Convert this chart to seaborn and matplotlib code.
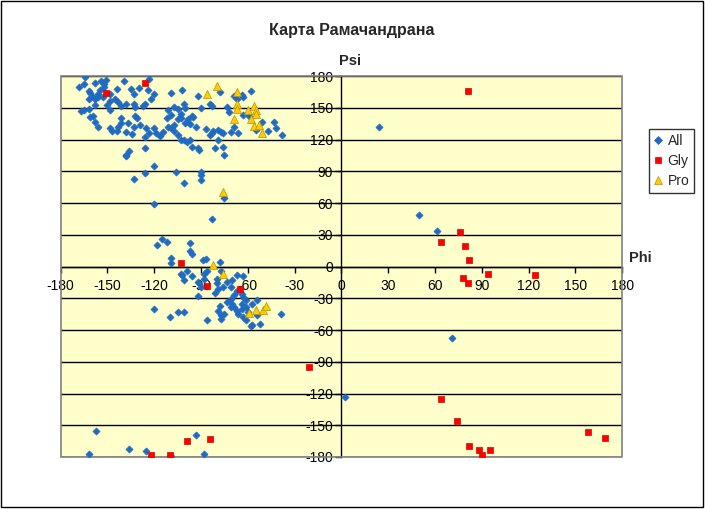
import matplotlib
matplotlib.use("Agg")
import matplotlib.pyplot as plt
from matplotlib.patches import Rectangle
from matplotlib.lines import Line2D
import seaborn as sns
import pandas as pd

# ---------------- data ----------------
all_phi = [-164, -168, -165, -162, -158, -154, -152, -151, -152, -155, -156, -161, -160, -162, -158, -156,
           -148, -144, -139, -135, -133, -130, -123, -124, -120, -122, -126, -127, -132, -133, -138, -141,
           -143, -145, -148, -150, -153, -158, -165, -162, -167, -159, -158, -161, -156, -148, -148, -147,
           -144, -143, -141, -141, -137, -138, -134, -133, -132, -131, -129, -125, -123, -126, -120, -119,
           -116, -114, -111, -109, -107, -105, -109, -112, -111, -107, -105, -109, -102, -101, -100, -103,
           -103, -100, -98, -97, -96, -95, -107, -105, -103, -101, -99, -97, -96, -92, -91, -93, -90, -92,
           -84, -83, -78, -73, -72, -69, -67, -64, -63, -58, -63, -69, -66, -71, -76, -77, -79, -82, -83,
           -87, -84, -79, -76, -75, -81, -55, -51, -47, -42, -43, -38, -59,
           -138, -136, -138, -126, -120, -133, -126, -106, -101, -90, -90, -90, -120, -75, -83,
           -115, -118, -112, -109, -109, -97, -97, -96, -102, -103, -101, -99, -96, -89, -87, -86, -88,
           -92, -90, -92, -88, -80, -80, -79, -81, -78, -77, -73, -76, -71, -70, -67, -63, -67, -69, -71,
           -73, -70, -69, -67, -66, -71, -64, -63, -61, -64, -61, -60, -64, -63, -61, -58, -57, -54, -52,
           -54, -57, -78, -79, -77, -77, -75, -120, -110, -105, -101, -86, -39,
           -157, -162, -136, -125, -109, -88, -93,
           24, 50, 61, 71, 2]
all_psi = [179, 170, 172, 166, 173, 175, 172, 176, 170, 167, 163, 164, 161, 158, 158, 160,
           163, 168, 175, 168, 163, 169, 177, 167, 163, 158, 154, 152, 151, 154, 154, 152,
           155, 158, 156, 153, 160, 153, 148, 149, 147, 142, 137, 141, 132, 148, 131, 128,
           128, 132, 140, 136, 136, 127, 125, 132, 142, 140, 134, 131, 126, 122, 131, 126,
           123, 127, 132, 131, 134, 139, 143, 140, 148, 151, 149, 164, 167, 154, 150, 144,
           140, 136, 139, 135, 142, 141, 128, 124, 120, 120, 118, 120, 113, 112, 110, 132, 150, 161,
           154, 152, 165, 151, 146, 161, 158, 162, 160, 166, 143, 132, 126, 127, 126, 127, 129, 128, 126,
           130, 124, 120, 113, 105, 112, 129, 137, 128, 131, 137, 124, 142,
           105, 109, 104, 112, 95, 83, 88, 89, 79, 89, 86, 82, 59, 65, 45,
           26, 20, 23, 8, 3, 22, 15, 12, -8, -7, -13, -4, -9, 6, 7, -4, -7,
           -15, -19, -28, -12, -12, -16, -21, -25, 4, -4, -15, -19, -19, -13, -8, -9, -23, -27, -31,
           -34, -35, -38, -42, -45, -38, -26, -29, -32, -35, -38, -43, -40, -48, -51, -56, -55, -46, -54,
           -32, -35, -37, -42, -46, -50, -45, -40, -48, -43, -43, -51, -45,
           -155, -177, -172, -174, -179, -177, -159,
           132, 49, 34, -68, -123]

gly_phi = [-126, -151, 81, -103, -86, -65, 76, 64, 79, 82, 94, 124, 78, 81, -21, 64, 74, 82, 88, 90,
           95, 158, 169, -122, -110, -99, -84]
gly_psi = [173, 164, 166, 3, -18, -21, 33, 23, 19, 6, -7, -8, -11, -16, -95, -125, -146, -170, -173, -178,
           -173, -156, -162, -178, -178, -165, -163]

pro_phi = [-80, -86, -67, -67, -67, -60, -56, -55, -55, -58, -56, -53, -69, -51, -76, -82, -76, -59, -55,
           -50, -48]
pro_psi = [171, 163, 165, 154, 149, 148, 152, 148, 144, 139, 133, 134, 139, 126, 70, 1, -7, -44, -41, -41,
           -37]

series_names = ["All", "Gly", "Pro"]
ticks = list(range(-180, 181, 30))

df = pd.concat([
    pd.DataFrame({"phi": all_phi, "psi": all_psi, "series": "All"}),
    pd.DataFrame({"phi": gly_phi, "psi": gly_psi, "series": "Gly"}),
    pd.DataFrame({"phi": pro_phi, "psi": pro_psi, "series": "Pro"}),
], ignore_index=True)

# ---------------- style ----------------
sns.set_style("white")
plt.rcParams["font.family"] = ["Liberation Sans", "DejaVu Sans"]
plt.rcParams["axes.unicode_minus"] = False

fig = plt.figure(figsize=(7.05, 5.09), dpi=100)
fig.patch.set_facecolor("white")
ax = fig.add_axes([60.5 / 705, 1 - 457 / 509, (622.3 - 60.5) / 705, (457 - 76) / 509])
ax.set_facecolor("#FFFFCC")

colors = {"All": "#1F6BC4", "Gly": "#FF0000", "Pro": "#FFCC00"}
edges = {"All": "#1F6BC4", "Gly": "#E00000", "Pro": "#B8920A"}
markers = {"All": "D", "Gly": "s", "Pro": "^"}
sizes = {"All": 13, "Gly": 24, "Pro": 34}

for name in series_names:
    sub = df[df["series"] == name]
    sns.scatterplot(data=sub, x="phi", y="psi", ax=ax, color=colors[name], marker=markers[name],
                    s=sizes[name], edgecolor=edges[name], linewidth=0.5, legend=False, zorder=3)

ax.set_xlim(-180, 180)
ax.set_ylim(-180, 180)
ax.set_xticks(ticks)
ax.set_yticks(ticks)
ax.set_xlabel("")
ax.set_ylabel("")

# grid lines (horizontal only)
ax.yaxis.grid(True, color="black", linewidth=1)
ax.xaxis.grid(False)
gl = ax.yaxis.get_gridlines()
gl[0].set_visible(False)
gl[-1].set_visible(False)
ax.set_axisbelow(True)

# spines crossing at zero
ax.spines["left"].set_position(("data", 0))
ax.spines["bottom"].set_position(("data", 0))
for s in ["left", "bottom"]:
    ax.spines[s].set_color("black")
    ax.spines[s].set_linewidth(1)
    ax.spines[s].set_zorder(2.5)
for s in ["top", "right"]:
    ax.spines[s].set_visible(False)
ax.add_patch(Rectangle((0, 0), 1, 1, transform=ax.transAxes, fill=False,
                       edgecolor="#808080", linewidth=1.2, zorder=2.6, clip_on=False))

ax.tick_params(axis="both", direction="out", length=4, width=1, color="black",
               labelsize=10, labelcolor="black")
ax.tick_params(axis="x", pad=5)
ax.tick_params(axis="y", pad=2)
ax.xaxis.set_ticks_position("bottom")
ax.yaxis.set_ticks_position("left")

# texts
fig.text(352 / 705, 1 - 30 / 509, "Карта Рамачандрана", ha="center", va="center",
         fontsize=11.5, fontweight="bold")
fig.text(350 / 705, 1 - 61 / 509, "Psi", ha="center", va="center", fontsize=10.5, fontweight="bold")
fig.text(640 / 705, 1 - 258 / 509, "Phi", ha="center", va="center", fontsize=10.5, fontweight="bold")

# legend
handles = [Line2D([], [], linestyle="none", marker=markers[n], markersize={"All": 4.2, "Gly": 5, "Pro": 5.5}[n],
                  markerfacecolor=colors[n], markeredgecolor=edges[n], markeredgewidth=0.5)
           for n in series_names]
leg = ax.legend(handles, series_names, loc="upper left", bbox_to_anchor=(649 / 705, 1 - 129 / 509),
                bbox_transform=fig.transFigure, borderaxespad=0, frameon=True, fancybox=False,
                edgecolor="black", fontsize=10, handlelength=0.6, handletextpad=0.4,
                labelspacing=0.45, borderpad=0.35)
leg.get_frame().set_linewidth(1)

# chart border
fig.add_artist(Rectangle((0.5 / 705, 2 / 509), 702 / 705, 506 / 509, transform=fig.transFigure,
                         fill=False, edgecolor="black", linewidth=1))

fig.savefig("out.png", dpi=100)
